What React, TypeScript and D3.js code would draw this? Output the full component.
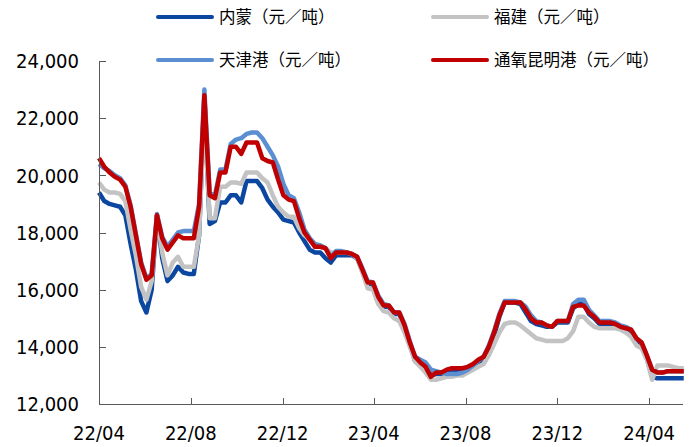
import React from "react";
import * as d3 from "d3";

// Weekly price series (元/吨), first week starting 2022-04-01
const START_DATE = "2022-04-01";
const END_DATE = "2024-05-16";

const neimeng = [
  19400, 19100, 19000, 18950, 18900, 18600, 17600, 16700, 15600, 15200,
  16000, 18600, 17100, 16300, 16500, 16800, 16600, 16550, 16550, 17900,
  22700, 18300, 18400, 19050, 19050, 19300, 19300, 19050, 19800, 19800,
  19800, 19550, 19150, 18900, 18700, 18450, 18400, 18350, 18000, 17700,
  17400, 17300, 17300, 17100, 16950, 17200, 17200, 17200, 17200, 17100,
  16650, 16200, 16200, 15700, 15400, 15400, 15150, 15150, 14700, 14100,
  13500, 13350, 13300, 13000, 13050, 13050, 13150, 13200, 13200, 13200,
  13250, 13350, 13450, 13550, 13900, 14400, 15050, 15550, 15550, 15550,
  15500, 15200, 14900, 14800, 14750, 14700, 14700, 14850, 14850, 14850,
  15350, 15500, 15500, 15150, 15000, 14800, 14800, 14800, 14700, 14650,
  14550, 14500, 14250, 14100, 13600, 12950, 12900, 12900, 12900, 12900,
  12900, 12900,
];

const fujian = [
  19750, 19500, 19400, 19400, 19350, 19100, 18100, 17200, 16100, 15650,
  16300, 18500, 17300, 16500, 16950, 17150, 16800, 16800, 16800, 17900,
  22300, 18500, 18500, 19600, 19600, 19750, 19750, 19700, 20100, 20100,
  20100, 19900, 19750, 19300, 18900, 18700, 18550, 18550, 18150, 17900,
  17750, 17550, 17550, 17450, 17300, 17300, 17300, 17300, 17250, 17100,
  16600, 16050, 16000, 15500, 15250, 15200, 15000, 14900, 14500, 14000,
  13500, 13300, 13100, 12850, 12850, 12900, 12950, 12950, 13000, 13000,
  13100, 13200, 13300, 13400, 13700, 14100, 14500, 14800, 14850, 14850,
  14750, 14600, 14450, 14300, 14250, 14200, 14200, 14200, 14200, 14300,
  14550, 15050, 15050, 14850, 14700, 14650, 14650, 14650, 14650, 14600,
  14500, 14350, 14050, 13950, 13550, 12850, 13350, 13350, 13350, 13300,
  13250, 13250,
];

const tianjin = [
  20400, 20250, 20150, 20000, 19900, 19650, 18950, 17950, 16950, 16400,
  16550, 18650, 17850, 17500, 17750, 18000, 18050, 18050, 18050, 19000,
  23000, 19400, 19300, 20200, 20200, 21100, 21250, 21300, 21450, 21500,
  21500, 21300, 21000, 20700, 20300, 19700, 19300, 19200, 18700, 18100,
  17800, 17600, 17550, 17450, 17150, 17350, 17350, 17300, 17250, 17150,
  16750, 16300, 16250, 15800, 15500, 15450, 15200, 15200, 14800, 14200,
  13650, 13550, 13450, 13200, 13150, 13100, 13050, 13050, 13050, 13100,
  13200, 13350, 13500, 13650, 14050, 14550, 15150, 15600, 15600, 15600,
  15550, 15400, 15100, 14900, 14850, 14750, 14700, 14900, 14900, 14900,
  15500, 15650, 15650, 15300, 15100, 14900, 14900, 14900, 14850, 14750,
  14700, 14600, 14300, 14150, 13700, 13200, 13100, 13100, 13150, 13150,
  13150, 13150,
];

const kunming = [
  20600, 20300, 20100, 19950, 19850, 19600, 18900, 17900, 16900, 16350,
  16500, 18600, 17800, 17400, 17650, 17900, 17800, 17800, 17800, 18900,
  22800, 19300, 19200, 20100, 20100, 21000, 21000, 20750, 21150, 21150,
  21150, 20600, 20500, 20450, 19850, 19300, 19150, 19100, 18500, 18000,
  17750, 17500, 17500, 17450, 17100, 17300, 17300, 17300, 17250, 17150,
  16700, 16250, 16250, 15750, 15450, 15450, 15200, 15200, 14750, 14150,
  13650, 13450, 13300, 12950, 13100, 13100, 13200, 13250, 13250, 13250,
  13300, 13400, 13550, 13650, 14000, 14500, 15100, 15550, 15550, 15550,
  15550, 15300, 15000, 14850, 14850, 14750, 14700, 14900, 14900, 14900,
  15400, 15450, 15450, 15200, 15050, 14850, 14850, 14850, 14800, 14700,
  14650, 14600, 14300, 14150, 13700, 13200, 13100, 13100, 13150, 13150,
  13150, 13150,
];

const seriesNames = ["内蒙（元／吨）", "福建（元／吨）", "天津港（元／吨）", "通氧昆明港（元／吨）"];
const seriesColors = ["#0b47a1", "#c3c3c3", "#5b8fd2", "#c00000"];
const seriesValues = [neimeng, fujian, tianjin, kunming];

const xTickDates = ["2022-04-01", "2022-08-01", "2022-12-01", "2023-04-01", "2023-08-01", "2023-12-01", "2024-04-01"];
const yTicks = [12000, 14000, 16000, 18000, 20000, 22000, 24000];

const parse = d3.timeParse("%Y-%m-%d");

export default function App() {
  const W = 697;
  const H = 447;
  const left = 99;
  const right = 683;
  const top = 61;
  const bottom = 404;

  const start = parse(START_DATE) as Date;
  const dates = kunming.map((_, i) => d3.timeDay.offset(start, 7 * i));

  const x = d3.scaleTime().domain([start, parse(END_DATE) as Date]).range([left, right]);
  const y = d3.scaleLinear().domain([12000, 24000]).range([bottom, top]);

  const line = d3
    .line<number>()
    .x((_, i) => x(dates[i]))
    .y((v) => y(v))
    .curve(d3.curveLinear);

  const fmtY = d3.format(",");
  const fmtX = d3.timeFormat("%y/%m");
  const axisColor = "#595959";
  const numFont = "'DejaVu Sans Condensed', 'DejaVu Sans', sans-serif";
  const cjkFont = "'Noto Sans CJK SC', sans-serif";

  const legendItems = [
    { i: 0, lx: 158, ly: 17 },
    { i: 1, lx: 433, ly: 17 },
    { i: 2, lx: 158, ly: 60 },
    { i: 3, lx: 433, ly: 60 },
  ];

  return (
    <svg
      width={W}
      height={H}
      style={{ position: "absolute", left: 0, top: 0, background: "#fff" }}
      xmlns="http://www.w3.org/2000/svg"
    >
      <rect x={0} y={0} width={W} height={H} fill="#fff" />
      {/* series */}
      <g fill="none" strokeWidth={4.5} strokeLinejoin="round">
        {seriesValues.map((vals, i) => (
          <path key={i} d={line(vals) || ""} stroke={seriesColors[i]} />
        ))}
      </g>
      {/* y axis */}
      <g>
        <line x1={left + 0.5} x2={left + 0.5} y1={top} y2={bottom} stroke={axisColor} strokeWidth={1} />
        {yTicks.map((t) => (
          <g key={t}>
            <line x1={left} x2={left + 7} y1={Math.round(y(t)) + 0.5} y2={Math.round(y(t)) + 0.5} stroke={axisColor} />
            <text
              x={79}
              y={y(t)}
              dy="0.36em"
              textAnchor="end"
              fontFamily={numFont}
              fontSize={20}
              fill="#000"
            >
              {fmtY(t)}
            </text>
          </g>
        ))}
      </g>
      {/* x axis */}
      <g>
        <line x1={left} x2={right} y1={bottom + 0.5} y2={bottom + 0.5} stroke={axisColor} strokeWidth={1} />
        {xTickDates.map((s) => {
          const d = parse(s) as Date;
          const px = Math.round(x(d)) + 0.5;
          return (
            <g key={s}>
              <line x1={px} x2={px} y1={bottom} y2={bottom - 6} stroke={axisColor} />
              <text x={x(d)} y={440} textAnchor="middle" fontFamily={numFont} fontSize={20} fill="#000">
                {fmtX(d)}
              </text>
            </g>
          );
        })}
      </g>
      {/* legend */}
      <g>
        {legendItems.map(({ i, lx, ly }) => (
          <g key={i}>
            <line x1={lx} x2={lx + 54} y1={ly} y2={ly} stroke={seriesColors[i]} strokeWidth={4} strokeLinecap="round" />
            <text
              x={lx + 61}
              y={ly}
              dy="0.36em"
              fontFamily={cjkFont}
              fontSize={16.5}
              fill="#000"
            >
              {seriesNames[i]}
            </text>
          </g>
        ))}
      </g>
    </svg>
  );
}
